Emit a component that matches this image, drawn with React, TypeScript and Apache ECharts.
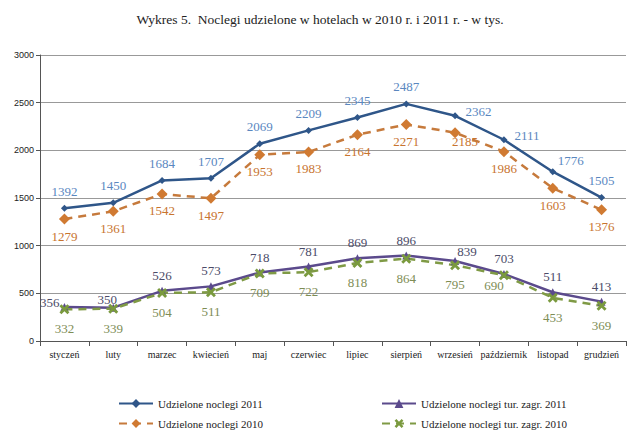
import React, { useEffect, useRef } from "react";
import * as echarts from "echarts";

const months = ["styczeń", "luty", "marzec", "kwiecień", "maj", "czerwiec", "lipiec", "sierpień", "wrzesień", "październik", "listopad", "grudzień"];
const noclegi2011 = [1392, 1450, 1684, 1707, 2069, 2209, 2345, 2487, 2362, 2111, 1776, 1505];
const noclegi2010 = [1279, 1361, 1542, 1497, 1953, 1983, 2164, 2271, 2185, 1986, 1603, 1376];
const zagr2011 = [356, 350, 526, 573, 718, 781, 869, 896, 839, 703, 511, 413];
const zagr2010 = [332, 339, 504, 511, 709, 722, 818, 864, 795, 690, 453, 369];
const seriesNames = ["Udzielone noclegi 2011", "Udzielone noclegi 2010", "Udzielone noclegi tur. zagr. 2011", "Udzielone noclegi tur. zagr. 2010"];

const SERIF = "Times New Roman, Liberation Serif, serif";
const SANS = "Arial, Liberation Sans, sans-serif";

export default function App() {
  const ref = useRef<HTMLDivElement>(null);
  useEffect(() => {
    if (!ref.current) return;
    const chart = echarts.init(ref.current, undefined, { renderer: "svg" });
    const lbl = (color: string, position: string, distance: number) => ({
      show: true, position, distance, color, fontFamily: SERIF, fontSize: 13,
    });
    const withTweaks = (vals: number[], tweaks: Record<number, any>) =>
      vals.map((v, i) => (tweaks[i] ? { value: v, label: tweaks[i] } : v));
    const legendBase = (name: string, left: number, top: number) => ({
      data: [name], left, top, itemWidth: 34, itemHeight: 11, itemGap: 4,
      textStyle: { fontFamily: SERIF, fontSize: 11, color: "#222" },
    });
    chart.setOption({
      animation: false,
      textStyle: { fontFamily: SERIF },
      title: {
        text: "Wykres 5.  Noclegi udzielone w hotelach w 2010 r. i 2011 r. - w tys.",
        left: "center", top: 7,
        textStyle: { fontFamily: SERIF, fontSize: 13.5, fontWeight: "normal", color: "#222" },
      },
      legend: [
        legendBase(seriesNames[0], 113, 393),
        legendBase(seriesNames[1], 113, 413),
        legendBase(seriesNames[2], 376, 393),
        legendBase(seriesNames[3], 376, 413),
      ],
      grid: { left: 40, right: 14, top: 55, bottom: 95 },
      xAxis: {
        type: "category", data: months, boundaryGap: true,
        axisLine: { lineStyle: { color: "#555", width: 1 } },
        axisTick: { show: true, alignWithLabel: false, length: 5, lineStyle: { color: "#555" } },
        axisLabel: { fontFamily: SERIF, fontSize: 10, color: "#222", margin: 8, interval: 0 },
      },
      yAxis: {
        type: "value", min: 0, max: 3000, interval: 500,
        axisLine: { show: true, lineStyle: { color: "#555" } },
        axisTick: { show: true, inside: false, length: 4, lineStyle: { color: "#555" } },
        axisLabel: { fontFamily: SANS, fontSize: 9, color: "#222", margin: 6, formatter: (v: number) => String(v) },
        splitLine: { lineStyle: { color: "#999", width: 1 } },
      },
      series: [
        {
          name: seriesNames[0], type: "line",
          data: withTweaks(noclegi2011, { 8: { position: "right", offset: [0, -4] }, 9: { position: "right", offset: [0, -4] }, 10: { offset: [18, 6] } }),
          symbol: "diamond", symbolSize: 7,
          lineStyle: { color: "#2F5689", width: 2.5 }, itemStyle: { color: "#2F5689" },
          label: lbl("#5A87BF", "top", 7),
        },
        {
          name: seriesNames[1], type: "line",
          data: withTweaks(noclegi2010, { 8: { offset: [10, -8] } }),
          symbol: "diamond", symbolSize: 11,
          lineStyle: { color: "#C67A3C", width: 2.5, type: [8, 6] }, itemStyle: { color: "#D07A32" },
          label: lbl("#C8742F", "bottom", 5),
        },
        {
          name: seriesNames[2], type: "line",
          data: withTweaks(zagr2011, { 0: { position: "left", offset: [4, -5] }, 1: { offset: [-6, 7] }, 8: { offset: [12, 6] } }),
          symbol: "triangle", symbolSize: 8,
          lineStyle: { color: "#5B4A8C", width: 2.5 }, itemStyle: { color: "#5B4A8C" },
          label: lbl("#4B4B68", "top", 5),
        },
        {
          name: seriesNames[3], type: "line",
          data: withTweaks(zagr2010, { 9: { offset: [-10, -9] } }),
          symbol: "path://M0,2 L2,0 L5,3 L8,0 L10,2 L7,5 L10,8 L8,10 L5,7 L2,10 L0,8 L3,5 Z", symbolSize: 10,
          lineStyle: { color: "#7F9A45", width: 2.5, type: [8, 6] }, itemStyle: { color: "#7A9A3E" },
          label: lbl("#7E8D55", "bottom", 8),
        },
      ],
    });
    return () => chart.dispose();
  }, []);
  return <div ref={ref} style={{ width: 640, height: 436, position: "absolute", left: 0, top: 0 }} />;
}
